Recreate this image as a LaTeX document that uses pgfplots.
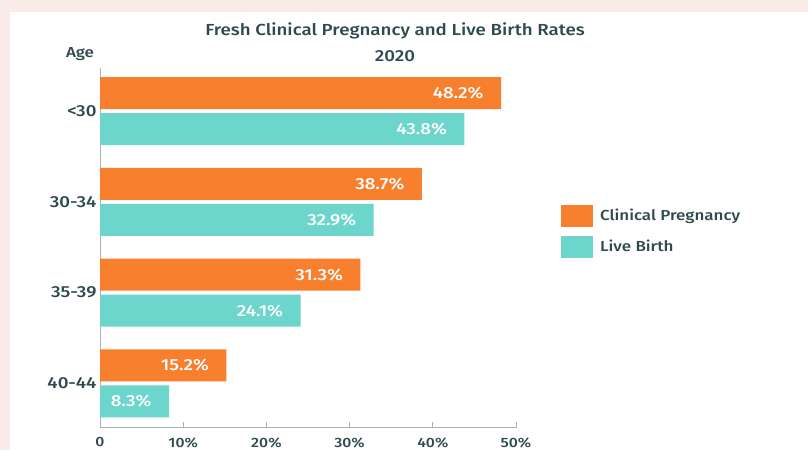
\documentclass[border=0pt]{standalone}
\usepackage{pgfplots}
\pgfplotsset{compat=1.18}
\usepackage{fontspec}
\setmainfont{Fira Sans}
\newfontfamily\med{Fira Sans Medium}[FakeStretch=1.17]
\definecolor{orng}{HTML}{F77F2E}
\definecolor{tealc}{HTML}{6CD5CC}
\definecolor{txt}{HTML}{2D4A4D}
\definecolor{axgrey}{HTML}{A9B3B5}
\definecolor{bgpink}{HTML}{F9EBE7}
\begin{document}
\begin{tikzpicture}[x=1pt,y=1pt]
\fill[bgpink] (0,0) rectangle (808,450);
\fill[white] (10,0) rectangle (808,438);
\node[font=\med\fontsize{16}{19}\selectfont, text=txt] at (395,419) {Fresh Clinical Pregnancy and Live Birth Rates};
\node[font=\med\fontsize{16}{19}\selectfont, text=txt] at (395,394) {2020};
\node[font=\med\fontsize{14.5}{17}\selectfont, text=txt] at (80,396) {Age};
\begin{axis}[
  at={(100pt,22pt)}, anchor=south west,
  scale only axis, width=416pt, height=360pt,
  xmin=0, xmax=50, ymin=-0.49, ymax=3.474,
  xbar, bar width=32pt,
  axis x line*=bottom, axis y line*=left,
  axis line style={draw=axgrey, line width=1pt},
  xtick={0,10,20,30,40,50},
  xticklabels={0,10\%,20\%,30\%,40\%,50\%},
  ytick={0,1,2,3},
  yticklabels={40-44,35-39,30-34,<30},
  tick align=inside, major tick length=6pt,
  tick style={draw=axgrey, line width=0.8pt},
  ytick style={draw=none},
  x tick label style={font=\med\fontsize{13.5}{16}\selectfont, text=txt, yshift=-6pt},
  y tick label style={font=\med\fontsize{16}{19}\selectfont, text=txt},
  /pgf/number format/assume math mode=true,
  point meta=x,
  nodes near coords={\pgfmathprintnumber[fixed,fixed zerofill,precision=1]{\pgfplotspointmeta}\%},
  every node near coord/.append style={anchor=east, xshift=-14pt, text=white, font=\med\fontsize{16}{19}\selectfont},
  clip=false,
  legend style={at={(1.108,0.546)}, anchor=west, draw=none, fill=none, inner sep=0pt,
    nodes={inner sep=0pt}, row sep=9pt, column sep=7pt, cells={anchor=west},
    font=\med\fontsize{14.5}{17}\selectfont, text=txt},
  legend image code/.code={\fill[#1] (0pt,-11pt) rectangle (32pt,11pt);},
]
\addplot[fill=orng, draw=none, bar shift=18pt] coordinates {(15.2,0) (31.3,1) (38.7,2) (48.2,3)};
\addplot[fill=tealc, draw=none, bar shift=-18pt] coordinates {(8.3,0) (24.1,1) (32.9,2) (43.8,3)};
\legend{Clinical Pregnancy, Live Birth}
\end{axis}
\end{tikzpicture}
\end{document}
